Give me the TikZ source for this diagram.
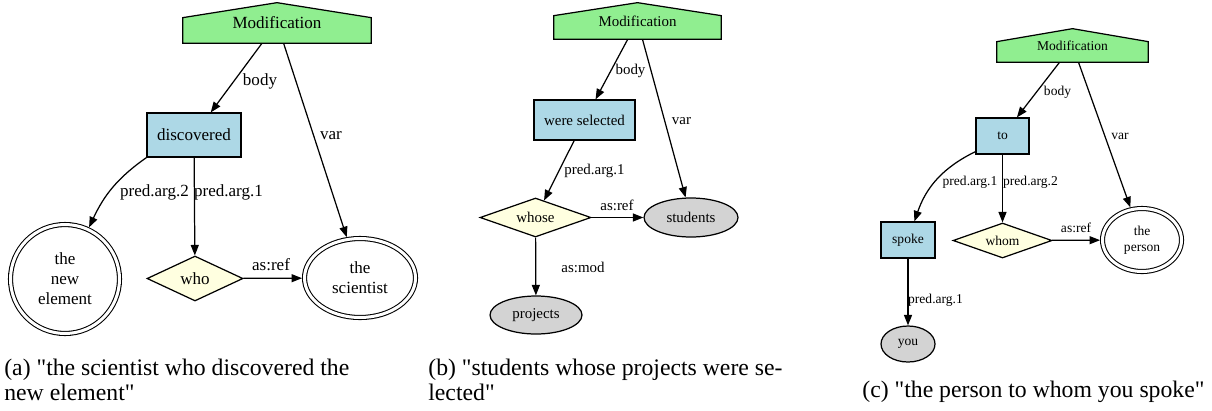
\documentclass[tikz,border=0pt]{standalone}
\usepackage{fontspec}
\setmainfont{Liberation Serif}[Ligatures=TeXOff]
\usetikzlibrary{arrows.meta}
\usetikzlibrary{shapes.geometric}
\usetikzlibrary{backgrounds}

\definecolor{lgreen}{HTML}{90EE90}
\definecolor{lblue}{HTML}{ADD8E6}
\definecolor{lyellow}{HTML}{FFFFE0}
\definecolor{lgray}{HTML}{D3D3D3}

\tikzset{
  graph/.style={line width=0.7pt, -{Triangle[length=0.21cm, width=0.16cm]}},
  housenode/.style={inner sep=0pt},
  housefill/.style={draw, fill=lgreen, line width=0.7pt},
  predbox/.style={rectangle, draw, fill=lblue, line width=0.7pt, inner sep=0pt},
  relnode/.style={diamond, draw, fill=lyellow, line width=0.7pt, inner sep=0pt, aspect=2},
  entity/.style={ellipse, draw, fill=lgray, line width=0.7pt, inner sep=0pt},
  refnode/.style={ellipse, draw, double, double distance=0.06cm, line width=0.6pt,
    inner sep=0pt, outer sep=0.05cm, align=center},
  lbl/.style={inner sep=0pt},
  caption/.style={inner sep=0pt, align=left, font=\fontsize{13.5}{14}\selectfont},
}

\begin{document}
\begin{tikzpicture}[x=0.02cm, y=-0.02cm]
    \useasboundingbox (0,0) rectangle (1212,410);

    % Draw the first graph (a)
    \begin{scope}[font=\fontsize{9.7}{11.4}\selectfont]
    \node[housenode, minimum width=3.76cm, minimum height=0.8cm] (modA) at (277,23) {Modification};
    \begin{scope}[on background layer]
    \draw[housefill] (modA.south west) -- (modA.south east) -- ([shift={(0,15)}]modA.north east)
        -- (modA.north) -- ([shift={(0,15)}]modA.north west) -- cycle;
    \end{scope}
    \node[predbox, minimum width=1.88cm, minimum height=0.88cm] (discA) at (194,135) {discovered};
    \node[refnode, minimum width=2.18cm, minimum height=2.18cm] (elemA) at (65,279) {the\\new\\element};
    \node[relnode, minimum width=1.92cm, minimum height=0.9cm] (whoA) at (195,278.5) {who};
    \node[refnode, minimum width=2.22cm, minimum height=1.58cm] (sciA) at (360,278) {the\\scientist};

    \draw[graph] (modA) -- (discA);
    \draw[graph] (modA) -- (sciA);
    \draw[graph] (discA.south west) to[out=215, in=65] (elemA);
    \draw[graph] (discA) -- (whoA);
    \draw[graph] (whoA) -- (sciA);

    \node[lbl] (bodyA) at (260,81) {body};
    \node[lbl] (varA) at (331,136) {var};
    \node[lbl] (argtwoA) at (154.5,192) {pred.arg.2};
    \node[lbl] (argoneA) at (228.5,192) {pred.arg.1};
    \node[lbl] (refA) at (271,265) {as:ref};
    \end{scope}
    \node[caption, anchor=north west] (capA) at (4,359) {(a) "the scientist who discovered the\\new element"};

    % Draw the second graph (b)
    \begin{scope}[font=\fontsize{8.5}{10}\selectfont]
    \node[housenode, minimum width=3.34cm, minimum height=0.72cm] (modB) at (637.5,21) {Modification};
    \begin{scope}[on background layer]
    \draw[housefill] (modB.south west) -- (modB.south east) -- ([shift={(0,13)}]modB.north east)
        -- (modB.north) -- ([shift={(0,13)}]modB.north west) -- cycle;
    \end{scope}
    \node[predbox, minimum width=2.02cm, minimum height=0.8cm] (wereB) at (584.5,120) {were selected};
    \node[relnode, minimum width=2.22cm, minimum height=0.78cm] (whoseB) at (535.5,217.5) {whose};
    \node[entity, minimum width=1.88cm, minimum height=0.78cm] (studB) at (691,217.5) {students};
    \node[entity, minimum width=1.84cm, minimum height=0.76cm] (projB) at (536,315) {projects};

    \draw[graph] (modB) -- (wereB);
    \draw[graph] (modB) -- (studB);
    \draw[graph] (wereB) -- (whoseB);
    \draw[graph] (whoseB) -- (studB);
    \draw[graph] (whoseB) -- (projB);

    \node[lbl] (bodyB) at (630.5,71) {body};
    \node[lbl] (varB) at (681.5,121) {var};
    \node[lbl] (argoneB) at (594.5,171) {pred.arg.1};
    \node[lbl] (refB) at (617,205) {as:ref};
    \node[lbl] (modlblB) at (583,267) {as:mod};
    \end{scope}
    \node[caption, anchor=north west] (capB) at (428,359) {(b) "students whose projects were se-\\lected"};

    % Draw the third graph (c)
    \begin{scope}[font=\fontsize{7.7}{9.4}\selectfont]
    \node[housenode, minimum width=3.02cm, minimum height=0.66cm] (modC) at (1072.5,45.5) {Modification};
    \begin{scope}[on background layer]
    \draw[housefill] (modC.south west) -- (modC.south east) -- ([shift={(0,13)}]modC.north east)
        -- (modC.north) -- ([shift={(0,13)}]modC.north west) -- cycle;
    \end{scope}
    \node[predbox, minimum width=1.06cm, minimum height=0.72cm] (toC) at (1002.5,136) {to};
    \node[predbox, minimum width=1.08cm, minimum height=0.72cm] (spokeC) at (908,240) {spoke};
    \node[relnode, minimum width=1.98cm, minimum height=0.7cm] (whomC) at (1002.5,240.5) {whom};
    \node[refnode, minimum width=1.58cm, minimum height=1.26cm] (personC) at (1142,240) {the\\person};
    \node[entity, minimum width=1.08cm, minimum height=0.72cm] (youC) at (908,344) {you};

    \draw[graph] (modC) -- (toC);
    \draw[graph] (modC) -- (personC);
    \draw[graph] (toC.210) to[out=206, in=71] (spokeC);
    \draw[graph] (toC) -- (whomC);
    \draw[graph] (whomC) -- (personC);
    \draw[graph] (spokeC) -- (youC);

    \node[lbl] (bodyC) at (1057.5,92) {body};
    \node[lbl] (varC) at (1120,136) {var};
    \node[lbl] (argoneC) at (970,182) {pred.arg.1};
    \node[lbl] (argtwoC) at (1030.5,182) {pred.arg.2};
    \node[lbl] (refC) at (1076,228) {as:ref};
    \node[lbl] (youlblC) at (935.5,300) {pred.arg.1};
    \end{scope}
    \node[caption, anchor=base west] (capC) at (862,397) {(c) "the person to whom you spoke"};
\end{tikzpicture}
\end{document}
